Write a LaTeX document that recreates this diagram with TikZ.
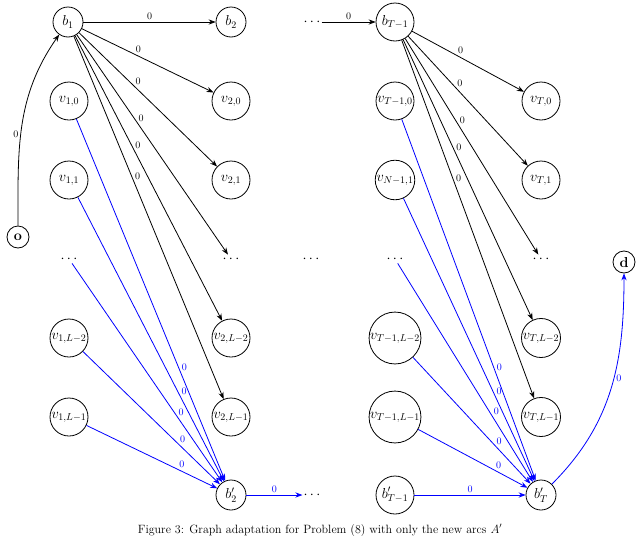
\documentclass[tikz,border=0pt]{standalone}
\usetikzlibrary{arrows.meta}
\begin{document}
\begin{tikzpicture}[x=1pt,y=-1pt,font=\Large,
  st/.style={circle,draw,thick,minimum size=38pt,inner sep=0.5pt},
  sm/.style={circle,draw,thick,minimum size=22pt,inner sep=1pt},
  dt/.style={inner sep=1pt,minimum size=4pt},
  ar/.style={-{Stealth[length=7pt]},thick},
  bl/.style={ar,blue},
  lb/.style={font=\normalsize,fill=none,inner sep=2pt}]
\useasboundingbox (0,0) rectangle (640,536);
\node[sm] (o) at (18,237) {$\mathbf{o}$};
\node[sm] (d) at (624,262) {$\mathbf{d}$};
\node[st,minimum size=30pt] (b1) at (68,22) {$b_1$};
\node[st,minimum size=30pt] (b2) at (231,22) {$b_2$};
\node[dt] (td) at (312,22) {$\cdots$};
\node[st] (bT1) at (395,22) {$b_{T-1}$};
\foreach \x/\n in {69/a,231/b,395/c,541/e}{
  \node[dt] (\n3) at (\x,259) {$\cdots$};
}
\node[st] (a0) at (69,101) {$v_{1,0}$};
\node[st] (a1) at (69,180) {$v_{1,1}$};
\node[st] (a4) at (69,338) {$v_{1,L-2}$};
\node[st] (a5) at (69,417) {$v_{1,L-1}$};
\node[st] (b0) at (231,101) {$v_{2,0}$};
\node[st] (bb1) at (231,180) {$v_{2,1}$};
\node[st] (b4) at (231,338) {$v_{2,L-2}$};
\node[st] (b5) at (231,417) {$v_{2,L-1}$};
\node[st,minimum size=30pt] (bp2) at (231,495) {$b_2'$};
\node[dt] (bd) at (312,495) {$\cdots$};
\node[dt] (md) at (311,259) {$\cdots$};
\node[st] (c0) at (395,101) {$v_{T-1,0}$};
\node[st] (c1) at (395,180) {$v_{N-1,1}$};
\node[st] (c4) at (395,338) {$v_{T-1,L-2}$};
\node[st] (c5) at (395,417) {$v_{T-1,L-1}$};
\node[st] (cp) at (395,495) {$b_{T-1}'$};
\node[st] (e0) at (541,101) {$v_{T,0}$};
\node[st] (e1) at (541,180) {$v_{T,1}$};
\node[st] (e4) at (541,338) {$v_{T,L-2}$};
\node[st] (e5) at (541,417) {$v_{T,L-1}$};
\node[st,minimum size=30pt] (bpT) at (541,495) {$b_T'$};

\draw[ar] (o) to[out=90,in=235] node[lb,left,pos=0.45] {0} (b1);
\draw[ar] (b1) -- node[lb,above] {0} (b2);
\draw[ar] (td) -- node[lb,above] {0} (bT1);
\foreach \t in {b0,bb1,b3,b4,b5}{
  \draw[ar] (b1) -- node[lb,above right,pos=0.4,inner sep=1pt] {0} (\t);
}
\foreach \t in {e0,e1,e3,e4,e5}{
  \draw[ar] (bT1) -- node[lb,above right,pos=0.4,inner sep=1pt] {0} (\t);
}
\foreach \s in {a0,a1,a3,a4,a5}{
  \draw[bl] (\s) -- node[lb,blue,above right,pos=0.7,inner sep=1pt] {0} (bp2);
}
\foreach \s in {c0,c1,c3,c4,c5}{
  \draw[bl] (\s) -- node[lb,blue,above right,pos=0.7,inner sep=1pt] {0} (bpT);
}
\draw[bl] (bp2) -- node[lb,blue,above] {0} (bd);
\draw[bl] (cp) -- node[lb,blue,above] {0} (bpT);
\draw[bl] (bpT) to[out=45,in=270] node[lb,blue,right,pos=0.55] {0} (d);
\node[anchor=base,font=\large] (cap) at (320,533) {Figure 3: Graph adaptation for Problem (8) with only the new arcs $A'$};
\end{tikzpicture}
\end{document}
